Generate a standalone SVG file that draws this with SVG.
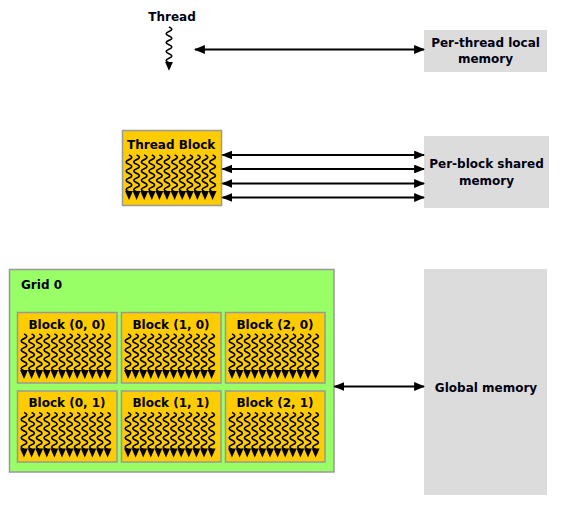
<svg xmlns="http://www.w3.org/2000/svg" xmlns:xlink="http://www.w3.org/1999/xlink" width="563" height="523" viewBox="0 0 563 523">
<style>
text{font-family:"DejaVu Sans","Liberation Sans",sans-serif;font-weight:bold;font-size:12px;fill:#000010}
.mem{fill:#dcdcdc}
.blk{fill:#ffcc00;stroke:#999;stroke-width:1.5}
.grid{fill:#99ff66;stroke:#999;stroke-width:1.5}
.conn{stroke:#000;stroke-width:2;fill:none;marker-start:url(#ah);marker-end:url(#ah)}
.wave{stroke:#000;stroke-width:1.7;fill:none}
</style>
<defs>
<marker id="ah" viewBox="0 0 10 8" refX="9" refY="4" markerWidth="5.5" markerHeight="4.4" orient="auto-start-reverse">
<path d="M0,0 L10,4 L0,8 Z" fill="#000"/>
</marker>
<g id="th">
<path class="wave" d="M0,0 q5.6,2.3 0,4.6 t0,4.6 t0,4.6 t0,4.6 t0,4.6 t0,4.6 t0,4.6 t0,4.6"/>
<path d="M-3.9,36 L3.9,36 L0,45 Z" fill="#000"/>
</g>
<g id="row">
<use xlink:href="#th" x="0"/><use xlink:href="#th" x="7.6"/><use xlink:href="#th" x="15.2"/><use xlink:href="#th" x="22.8"/><use xlink:href="#th" x="30.4"/><use xlink:href="#th" x="38"/><use xlink:href="#th" x="45.6"/><use xlink:href="#th" x="53.2"/><use xlink:href="#th" x="60.8"/><use xlink:href="#th" x="68.4"/><use xlink:href="#th" x="76"/><use xlink:href="#th" x="83.6"/>
</g>
</defs>
<rect width="563" height="523" fill="#fff"/>

<g id="thread">
<text x="172" y="20.5" text-anchor="middle">Thread</text>
<use xlink:href="#th" transform="translate(169,27) scale(1,0.97)"/>
</g>

<g id="local-memory">
<rect class="mem" x="424" y="30" width="123" height="42"/>
<text x="485.5" y="47" text-anchor="middle">Per-thread local</text>
<text x="485.5" y="63" text-anchor="middle">memory</text>
</g>

<g id="thread-block">
<rect class="blk" x="122.5" y="130.5" width="99" height="75"/>
<text x="127" y="148.5">Thread Block</text>
<use xlink:href="#row" x="129" y="155"/>
</g>

<g id="shared-memory">
<rect class="mem" x="424" y="136" width="125" height="72"/>
<text x="486.5" y="168" text-anchor="middle">Per-block shared</text>
<text x="486.5" y="184.5" text-anchor="middle">memory</text>
</g>

<g id="grid">
<rect class="grid" x="9.5" y="269.5" width="324.5" height="202.5"/>
<text x="21" y="288.5">Grid 0</text>
<g id="block-0-0">
<rect class="blk" x="17.5" y="312.5" width="99.5" height="70.5"/>
<text x="67" y="328.5" text-anchor="middle">Block (0, 0)</text>
<use xlink:href="#row" x="24" y="334"/>
</g>
<g id="block-1-0">
<rect class="blk" x="121.5" y="312.5" width="99.5" height="70.5"/>
<text x="171" y="328.5" text-anchor="middle">Block (1, 0)</text>
<use xlink:href="#row" x="128" y="334"/>
</g>
<g id="block-2-0">
<rect class="blk" x="225.5" y="312.5" width="99.5" height="70.5"/>
<text x="275" y="328.5" text-anchor="middle">Block (2, 0)</text>
<use xlink:href="#row" x="232" y="334"/>
</g>
<g id="block-0-1">
<rect class="blk" x="17.5" y="391" width="99.5" height="71"/>
<text x="67" y="407" text-anchor="middle">Block (0, 1)</text>
<use xlink:href="#row" x="24" y="412.5"/>
</g>
<g id="block-1-1">
<rect class="blk" x="121.5" y="391" width="99.5" height="71"/>
<text x="171" y="407" text-anchor="middle">Block (1, 1)</text>
<use xlink:href="#row" x="128" y="412.5"/>
</g>
<g id="block-2-1">
<rect class="blk" x="225.5" y="391" width="99.5" height="71"/>
<text x="275" y="407" text-anchor="middle">Block (2, 1)</text>
<use xlink:href="#row" x="232" y="412.5"/>
</g>
</g>

<g id="global-memory">
<rect class="mem" x="424" y="269" width="123" height="226"/>
<text x="486" y="392" text-anchor="middle">Global memory</text>
</g>

<g id="connectors">
<line class="conn" x1="195" y1="49.5" x2="424" y2="49.5"/>
<line class="conn" x1="222.5" y1="155" x2="424" y2="155"/>
<line class="conn" x1="222.5" y1="169" x2="424" y2="169"/>
<line class="conn" x1="222.5" y1="183.5" x2="424" y2="183.5"/>
<line class="conn" x1="222.5" y1="197.5" x2="424" y2="197.5"/>
<line class="conn" x1="334.5" y1="386.5" x2="424" y2="386.5"/>
</g>
</svg>
